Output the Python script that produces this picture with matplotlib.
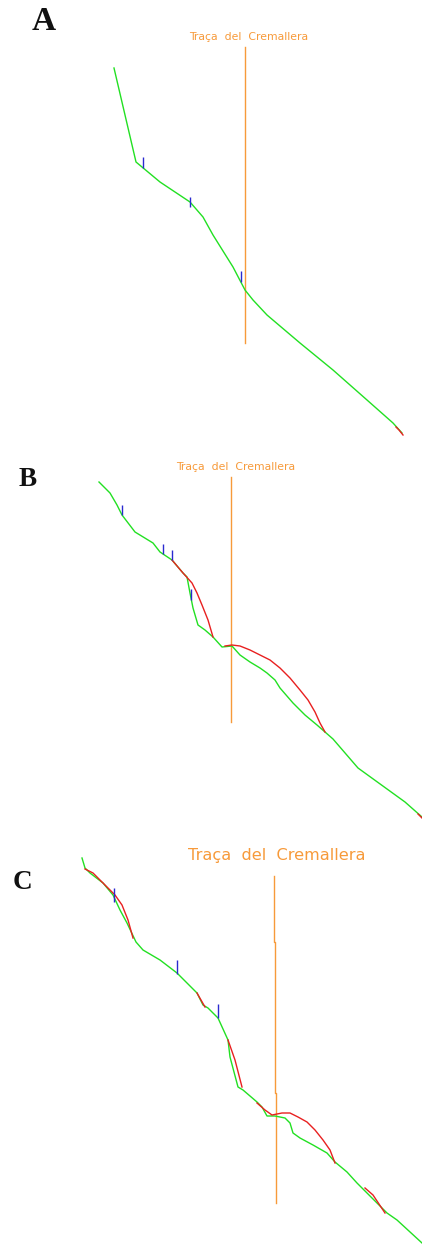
import matplotlib
matplotlib.use("Agg")
import matplotlib.pyplot as plt

W, H = 422, 1249
track_label = "Traça  del  Cremallera"
panel_labels = ["A", "B", "C"]
panel_label_xy = [(43.5, 21.5), (27.5, 479), (22.5, 882)]
panel_label_size = [24, 19.5, 19.5]
title_xy = [(249, 37), (236, 467), (277, 855)]
title_size = [7.8, 7.8, 11.6]

# Panel A
A_green_x = [114, 136, 142, 160, 190, 203, 213, 233, 245, 253, 267, 300, 333, 367, 393, 402]
A_green_y = [68, 162, 167, 182, 202, 217, 235, 267, 290, 300, 315, 343, 370, 400, 423, 433]
A_red = [([396, 399, 403], [427, 430, 435])]
A_track_x = [245, 245]
A_track_y = [47, 343]
A_ticks_x = [143, 190, 241]
A_ticks_y0 = [157, 197, 271]
A_ticks_y1 = [168, 207, 282]

# Panel B
B_green_x = [99, 110, 117, 122, 135, 153, 160, 172, 183, 187, 190, 193, 198, 205, 213, 222, 232, 240, 250,
             260, 267, 275, 280, 293, 305, 317, 325, 333, 358, 405, 422]
B_green_y = [482, 493, 505, 515, 532, 543, 552, 560, 573, 577, 593, 608, 625, 630, 637, 647, 646, 655, 662,
             668, 673, 680, 688, 703, 715, 725, 732, 739, 768, 802, 817]
B_red = [([172, 183, 192, 197, 202, 208, 213], [560, 573, 583, 593, 605, 620, 637]),
         ([225, 232, 240, 250, 260, 270, 280, 290, 300, 308, 315, 320, 325],
          [646, 645, 646, 650, 655, 660, 668, 678, 690, 700, 712, 723, 732]),
         ([418, 422], [814, 818])]
B_track_x = [231, 231]
B_track_y = [477, 722]
B_ticks_x = [122, 163, 172, 191]
B_ticks_y0 = [505, 544, 550, 589]
B_ticks_y1 = [515, 554, 560, 600]

# Panel C
C_green_x = [82, 85, 90, 103, 113, 120, 127, 136, 143, 160, 177, 197, 203, 208, 218, 228, 230, 238, 243,
             257, 262, 267, 275, 285, 290, 293, 300, 313, 327, 335, 347, 357, 387, 397, 422]
C_green_y = [858, 868, 873, 883, 895, 910, 923, 942, 950, 960, 973, 993, 1005, 1008, 1018, 1040, 1057,
             1087, 1090, 1102, 1107, 1116, 1116, 1118, 1123, 1133, 1138, 1145, 1153, 1162, 1172, 1183,
             1213, 1220, 1243]
C_red = [([85, 93, 103, 115, 122, 128, 133], [869, 873, 883, 895, 905, 920, 938]),
         ([197, 205], [993, 1007]),
         ([228, 235, 242], [1040, 1060, 1087]),
         ([257, 265, 272, 277, 282, 290, 298, 307, 315, 323, 330, 335],
          [1103, 1110, 1115, 1114, 1113, 1113, 1117, 1122, 1130, 1140, 1150, 1163]),
         ([365, 373, 385], [1188, 1195, 1213])]
C_track_x = [274.3, 274.3, 275.3, 275.3, 276.3, 276.3]
C_track_y = [876, 942, 942, 1093, 1093, 1203]
C_ticks_x = [114, 177, 218]
C_ticks_y0 = [888, 960, 1004]
C_ticks_y1 = [902, 974, 1018]

panels = [
    (A_green_x, A_green_y, A_red, A_track_x, A_track_y, A_ticks_x, A_ticks_y0, A_ticks_y1),
    (B_green_x, B_green_y, B_red, B_track_x, B_track_y, B_ticks_x, B_ticks_y0, B_ticks_y1),
    (C_green_x, C_green_y, C_red, C_track_x, C_track_y, C_ticks_x, C_ticks_y0, C_ticks_y1),
]

GREEN = "#22e022"
RED = "#e82020"
BLUE = "#2a2ad0"
ORANGE = "#f79a3a"

fig = plt.figure(figsize=(W / 100, H / 100), dpi=100)
ax = fig.add_axes([0, 0, 1, 1])
ax.set_xlim(0, W)
ax.set_ylim(H, 0)
ax.axis("off")

for i, (gx, gy, reds, tx, ty, kx, ky0, ky1) in enumerate(panels):
    ax.plot(tx, ty, color=ORANGE, lw=1.0, zorder=1)
    ax.plot(gx, gy, color=GREEN, lw=1.0, zorder=2)
    for rx, ry in reds:
        ax.plot(rx, ry, color=RED, lw=1.0, zorder=3)
    ax.vlines(kx, ky0, ky1, color=BLUE, lw=1.0, zorder=4)
    lx, ly = panel_label_xy[i]
    ax.text(lx, ly, panel_labels[i], family="Liberation Serif", fontweight="bold",
            fontsize=panel_label_size[i], ha="center", va="center", color="#111111")
    txx, tyy = title_xy[i]
    ax.text(txx, tyy, track_label, fontsize=title_size[i], ha="center", va="center",
            color=ORANGE, family="DejaVu Sans")

fig.savefig("out.png", dpi=100)
